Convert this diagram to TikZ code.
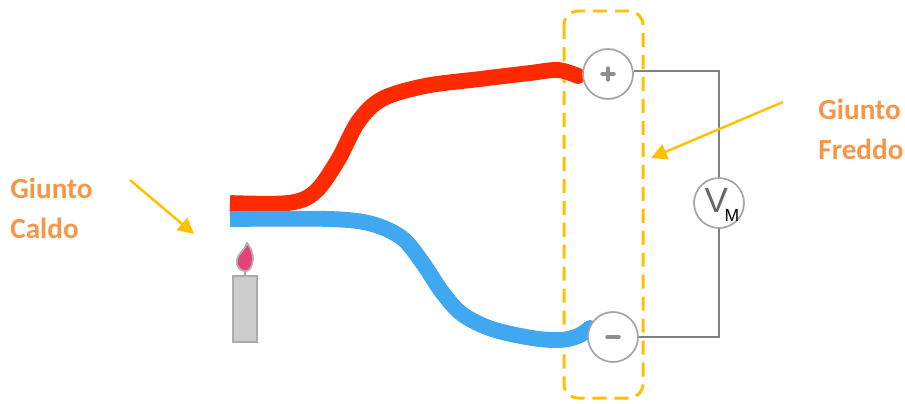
\documentclass[tikz,border=0pt]{standalone}
\usepackage{fontspec}
\setmainfont{Carlito}
\setsansfont{Liberation Sans}
\usetikzlibrary{arrows.meta}
\definecolor{labelorange}{HTML}{F79646}
\definecolor{callout}{HTML}{FFC000}
\definecolor{wirered}{HTML}{FF2A00}
\definecolor{wireblue}{HTML}{40A8F0}
\definecolor{meter}{HTML}{A6A6A6}
\definecolor{lead}{HTML}{808080}
\definecolor{flame}{HTML}{E6427A}
\tikzset{
  terminal/.style={circle, draw=meter, line width=1pt, minimum size=1cm, inner sep=0pt, fill=white},
  leadwire/.style={draw=lead, line width=1.2pt},
  pointer/.style={draw=callout, line width=1.4pt, -{Triangle[length=9pt,width=9pt]}},
  junctionlabel/.style={text=labelorange, font=\bfseries\fontsize{16.6}{22.7}\selectfont, align=left, inner sep=0pt},
  thermowire/.style={line width=9pt, line cap=butt, line join=round},
  polarity/.style={draw=lead!90, line width=2pt, line cap=round}
}
\begin{document}
\begin{tikzpicture}[x=0.02cm, y=-0.02cm]
\useasboundingbox (0,0) rectangle (905,403);

% cold junction enclosure
\draw[callout, line width=1.7pt, dash pattern=on 8pt off 4.5pt, rounded corners=8pt]
  (564,11) rectangle (643,398);

% thermocouple wires (square hot end, rounded cold end)
\draw[thermowire, wirered] plot[smooth, tension=0.55] coordinates
  {(230,203) (288,203) (315,192) (338,160) (358,122) (382,99) (425,86) (480,79) (530,73) (558,70) (578,76)};
\fill[wirered] (578,76) circle (4.5pt);
\draw[thermowire, wireblue] plot[smooth, tension=0.55] coordinates
  {(230,219) (330,219) (372,224) (402,238) (422,262) (442,292) (462,314) (492,329) (532,338) (560,340) (578,336) (590,328)};
\fill[wireblue] (590,328) circle (4.5pt);

% measuring loop
\node[terminal] (plus) at (608,74) {};
\node[terminal] (minus) at (613,337) {};
\node[terminal] (vm) at (719,203) {};
\coordinate (tr) at (719,71);
\coordinate (br) at (719,337);
\draw[leadwire] (plus.east |- tr) -- (tr) -- (vm.north);
\draw[leadwire] (vm.south) -- (br) -- (minus.east);

% terminal marks
\draw[polarity] ([xshift=-3.4pt]plus.center) -- ([xshift=3.4pt]plus.center);
\draw[polarity] ([yshift=-3.4pt]plus.center) -- ([yshift=3.4pt]plus.center);
\draw[polarity] ([xshift=-3.4pt]minus.center) -- ([xshift=3.4pt]minus.center);

% meter symbol
\node[inner sep=0pt, font=\sffamily] (vsym) at (722,205)
  {\textcolor{lead!80!black}{\fontsize{20}{20}\selectfont V}\kern-2pt\raisebox{-5pt}{\fontsize{10}{10}\selectfont M}};

% candle
\draw[fill=gray!40, draw=gray!65, line width=0.8pt] (233,276) rectangle (257,342);
\draw[gray!70, line width=0.8pt] (245,276) -- (245,270);
\draw[fill=flame, draw=gray!60, line width=1pt]
  (244,271) .. controls (236,269) and (235,261) .. (239,255)
  .. controls (243,250) and (245,248) .. (247,243)
  .. controls (253,250) and (254,259) .. (252,265)
  .. controls (250,270) and (247,272) .. (244,271) -- cycle;

% callouts
\node[junctionlabel, anchor=west] (hot) at (10,208) {Giunto\\Caldo};
\node[junctionlabel, anchor=west] (cold) at (818,129) {Giunto\\Freddo};
\coordinate (hotfrom) at (130,180);
\coordinate (hotto) at (194,234);
\coordinate (coldfrom) at (783,102);
\coordinate (coldto) at (651,158);
\draw[pointer] (hotfrom) -- (hotto);
\draw[pointer] (coldfrom) -- (coldto);
\end{tikzpicture}
\end{document}
